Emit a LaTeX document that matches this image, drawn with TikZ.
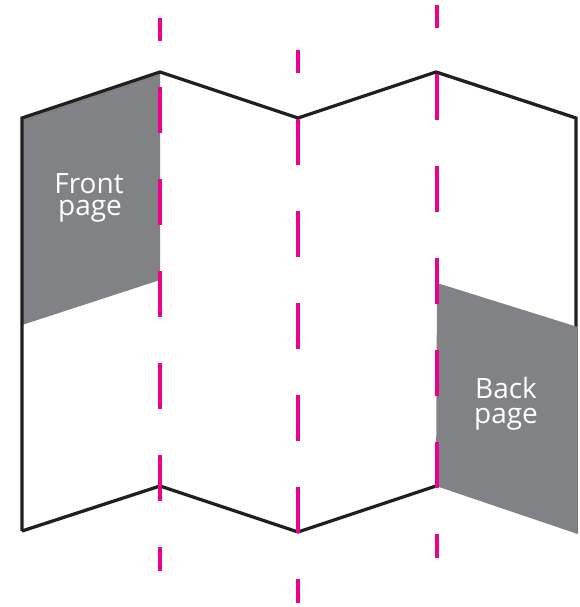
\documentclass[tikz,border=0pt]{standalone}
\usepackage{fontspec}
\newfontfamily\labelfont{Open Sans}
\definecolor{panelgray}{RGB}{128,130,133}
\definecolor{foldmagenta}{RGB}{236,0,140}
\definecolor{outlineblack}{RGB}{35,31,32}
\tikzset{
  outline/.style={draw=outlineblack, line width=3.3pt, line join=miter},
  panel/.style={fill=panelgray, draw=none},
  foldline/.style={draw=foldmagenta, line width=3.6pt, dash pattern=on 46pt off 46pt, dash phase=23pt},
  pagelabel/.style={text=white, font=\labelfont\fontsize{28}{28}\selectfont, inner sep=0pt, anchor=base},
  upperline/.style={pagelabel, text depth=0pt},
  lowerline/.style={pagelabel, text height=15pt}
}
\begin{document}
\begin{tikzpicture}[x=1pt, y=-1pt]
\useasboundingbox (0,0) rectangle (579,607);
% vertices
\coordinate (TL) at (22,118);
\coordinate (T1) at (160,72);
\coordinate (T2) at (298,118);
\coordinate (T3) at (436,72);
\coordinate (TR) at (576,118);
\coordinate (BL) at (22,531);
\coordinate (B1) at (160,486);
\coordinate (B2) at (298,532);
\coordinate (B3) at (436,486);
\coordinate (BR) at (576,533);
% front page panel
\fill[panel] (TL) -- (T1) -- (160,280) -- (22,325) -- cycle;
% outline
\draw[outline] (BL) -- (TL) -- (T1) -- (T2) -- (T3) -- (TR) -- (BR);
\draw[outline] (BL) -- (B1) -- (B2) -- (B3);
% back page panel
\fill[panel] (437,283) -- (577.7,327) -- (577.7,534) -- (B3) -- cycle;
% fold lines
\draw[foldline] (160,18) -- (160,571);
\draw[foldline] (298,50) -- (298,603);
\draw[foldline] (437,5) -- (437,558);
% labels
\node[upperline] (front1) at (89,193) {Front};
\node[lowerline] (front2) at (90,215.5) {page};
\node[upperline] (back1) at (506,398) {Back};
\node[lowerline] (back2) at (506,423) {page};
\end{tikzpicture}
\end{document}
